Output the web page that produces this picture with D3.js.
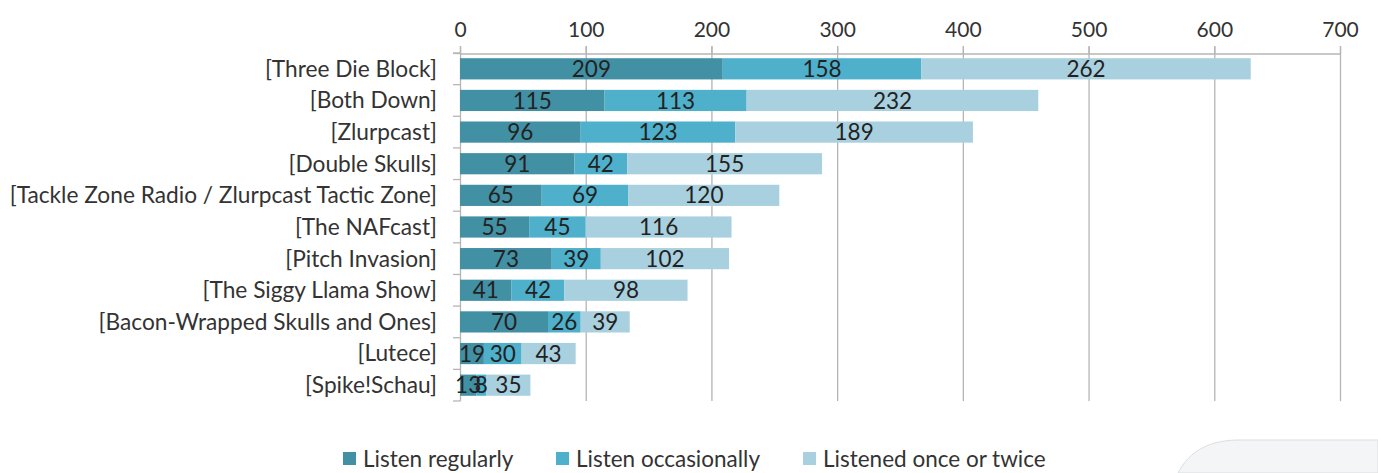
<!DOCTYPE html>
<html><head><meta charset="utf-8">
<script src="https://cdn.jsdelivr.net/npm/d3@7"></script>
<style>html,body{margin:0;padding:0;background:#fff;}svg{display:block;}</style>
</head><body>
<svg id="c" width="1378" height="473"></svg>
<script>
const categories = ["[Three Die Block]","[Both Down]","[Zlurpcast]","[Double Skulls]","[Tackle Zone Radio / Zlurpcast Tactic Zone]","[The NAFcast]","[Pitch Invasion]","[The Siggy Llama Show]","[Bacon-Wrapped Skulls and Ones]","[Lutece]","[Spike!Schau]"];
const seriesNames = ["Listen regularly","Listen occasionally","Listened once or twice"];
const regularly = [209,115,96,91,65,55,73,41,70,19,13];
const occasionally = [158,113,123,42,69,45,39,42,26,30,8];
const onceOrTwice = [262,232,189,155,120,116,102,98,39,43,35];
const xTicks = [0,100,200,300,400,500,600,700];
const colors = ["#4290a4","#4eb0ca","#a9d0df"];

const svg = d3.select("#c");
const font = "Lato, 'Open Sans', sans-serif";
const x = d3.scaleLinear().domain([0,700]).range([460,1340]);
const y = d3.scaleBand().domain(categories).range([53,401]).paddingInner(0.33).paddingOuter(0.165);

// background decoration shape bottom right
svg.append("path")
  .attr("d","M1178,473 C1190,450 1210,440 1240,440 L1378,440 L1378,473 Z")
  .attr("fill","#f4f5f7").attr("stroke","#dcdde0").attr("stroke-width",1);

// gridlines
svg.append("g").selectAll("line").data(xTicks.slice(1)).join("line")
  .attr("x1",d=>x(d)+0.5).attr("x2",d=>x(d)+0.5).attr("y1",46).attr("y2",401)
  .attr("stroke","#b5b5b5").attr("stroke-width",1.3);

// top axis
const xAxis = d3.axisTop(x).tickValues(xTicks).tickSize(7).tickSizeOuter(0).tickPadding(10);
const gx = svg.append("g").attr("transform","translate(0,53.5)").call(xAxis);
gx.select(".domain").attr("stroke","#b5b5b5").attr("stroke-width",1.3);
gx.append("line").attr("x1",453).attr("x2",460).attr("y1",0).attr("y2",0).attr("stroke","#b5b5b5").attr("stroke-width",1.3);
gx.selectAll(".tick line").attr("stroke","#b5b5b5").attr("stroke-width",1.3);
gx.selectAll("text").attr("font-family",font).attr("font-size",21).attr("fill","#333");

// left axis with band boundary ticks
const gy = svg.append("g");
gy.append("line").attr("x1",460.5).attr("x2",460.5).attr("y1",46).attr("y2",401).attr("stroke","#b5b5b5").attr("stroke-width",1.3);
const step = y.step();
const bounds = d3.range(categories.length+1).map(i=>53 + i*step);
gy.selectAll("line.b").data(bounds).join("line").attr("class","b")
  .attr("x1",453).attr("x2",460.5).attr("y1",d=>d).attr("y2",d=>d)
  .attr("stroke","#b5b5b5").attr("stroke-width",1.3);
gy.selectAll("text").data(categories).join("text")
  .attr("x",437).attr("y",d=>y(d)+y.bandwidth()/2).attr("dy","0.35em")
  .attr("text-anchor","end").attr("font-family",font).attr("font-size",22.7).attr("fill","#333")
  .text(d=>d);

// stacked bars
const rows = categories.map((c,i)=>({cat:c, vals:[regularly[i],occasionally[i],onceOrTwice[i]]}));
const segs = [];
rows.forEach(r=>{let acc=0; r.vals.forEach((v,k)=>{segs.push({cat:r.cat,k,v,x0:acc,x1:acc+v}); acc+=v;});});
svg.append("g").selectAll("rect").data(segs).join("rect")
  .attr("x",d=>x(d.x0)).attr("width",d=>x(d.x1)-x(d.x0))
  .attr("y",d=>y(d.cat)).attr("height",y.bandwidth())
  .attr("fill",d=>colors[d.k]);
svg.append("g").selectAll("text").data(segs).join("text")
  .attr("x",d=>(x(d.x0)+x(d.x1))/2).attr("y",d=>y(d.cat)+y.bandwidth()/2).attr("dy","0.36em")
  .attr("text-anchor","middle").attr("font-family",font).attr("font-size",22.5).attr("fill","#222")
  .text(d=>d.v);

// legend
const legX = [343,556,803];
const lg = svg.append("g").selectAll("g").data(seriesNames).join("g")
  .attr("transform",(d,i)=>`translate(${legX[i]},459)`);
lg.append("rect").attr("x",0).attr("y",-7).attr("width",13).attr("height",13).attr("fill",(d,i)=>colors[i]);
lg.append("text").attr("x",20).attr("dy","0.35em").attr("font-family",font).attr("font-size",22.5).attr("fill","#333").text(d=>d);
</script>
</body></html>
